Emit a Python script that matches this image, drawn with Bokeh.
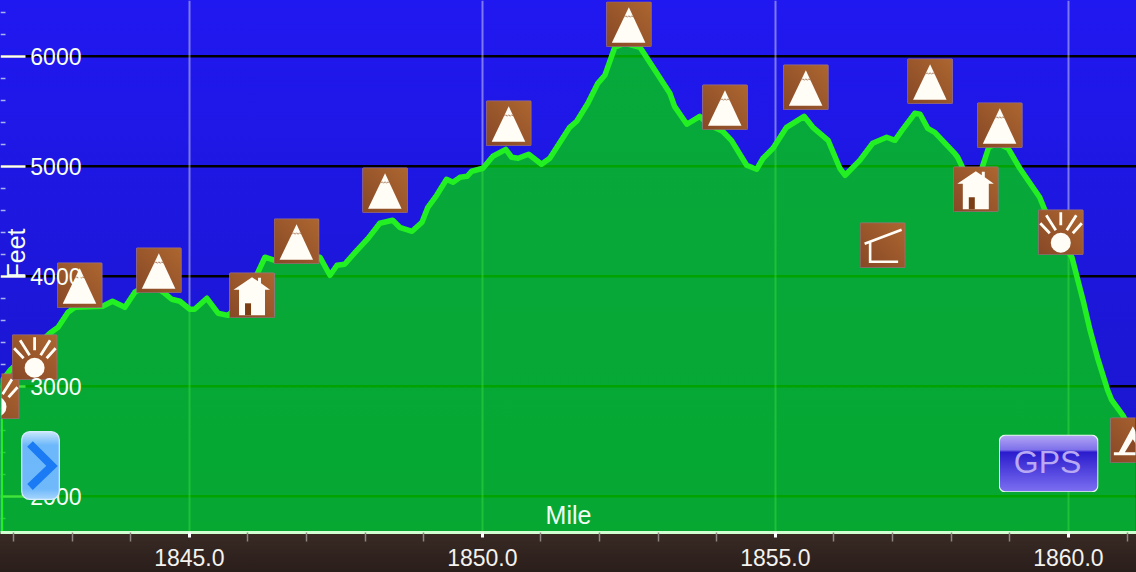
from urllib.parse import quote
from bokeh.embed import file_html
from bokeh.resources import INLINE
from bokeh.plotting import figure
from bokeh.models import (ColumnDataSource, FixedTicker, Grid, Label, LinearAxis, PrintfTickFormatter, Range1d)

miles = [1841.77,1841.94,1842.62,1842.76,1842.93,1843.05,1843.52,1843.69,1843.90,1844.07,1844.33,1844.58,1844.70,1844.84,1845.01,1845.09,1845.30,1845.49,1845.66,1845.95,1846.17,1846.29,1846.46,1846.85,1847.23,1847.40,1847.52,1847.65,1847.86,1848.05,1848.25,1848.47,1848.59,1848.80,1848.97,1849.07,1849.22,1849.39,1849.50,1849.62,1849.74,1849.82,1850.01,1850.18,1850.40,1850.50,1850.61,1850.79,1851.01,1851.15,1851.49,1851.61,1851.80,1851.97,1852.09,1852.26,1852.43,1852.69,1853.20,1853.28,1853.49,1853.71,1853.88,1854.10,1854.25,1854.51,1854.68,1854.79,1854.96,1855.19,1855.49,1855.64,1855.90,1856.10,1856.19,1856.44,1856.66,1856.90,1857.04,1857.16,1857.38,1857.47,1857.60,1857.72,1858.06,1858.11,1858.20,1858.40,1858.54,1858.64,1858.78,1858.97,1859.17,1859.51,1859.60,1859.82,1860.06,1860.25,1860.37,1860.50,1860.67,1860.74,1860.93,1861.15]
feet = [3027,3145,3482,3536,3673,3718,3727,3773,3718,3855,3936,3845,3791,3773,3700,3700,3800,3664,3645,3782,4036,4173,4145,4191,4173,4009,4100,4109,4236,4345,4482,4509,4445,4409,4491,4627,4736,4882,4855,4900,4909,4955,4982,5091,5154,5082,5073,5109,5018,5073,5354,5409,5573,5754,5827,6082,6118,6082,5664,5545,5382,5454,5373,5318,5236,5009,4973,5073,5164,5354,5454,5354,5236,4982,4918,5054,5209,5264,5236,5327,5482,5473,5345,5309,5118,5082,4982,4736,5009,5173,5209,5164,4982,4718,4600,4373,4173,3782,3509,3254,2964,2873,2736,2509]

icon_kinds = ["sun","sun","mountain","mountain","house","mountain","mountain","mountain","mountain","mountain","mountain","shelter","mountain","house","mountain","sun","tent"]
icon_miles = [1841.71,1842.36,1843.13,1844.48,1846.07,1846.83,1848.34,1850.45,1852.50,1854.14,1855.52,1856.83,1857.64,1858.42,1858.83,1859.87,1861.10]
icon_feet = [2909,3264,3918,4054,3827,4318,4782,5391,6291,5536,5718,4282,5773,4791,5373,4400,2509]

x_major = [1845,1850,1855,1860]
x_minor = [1842,1843,1844,1846,1847,1848,1849,1851,1852,1853,1854,1856,1857,1858,1859,1861]
y_major = [2000,3000,4000,5000,6000]
y_minor = [1800,2200,2400,2600,2800,3200,3400,3600,3800,4200,4400,4600,4800,5200,5400,5600,5800,6200,6400]
x_start, x_end = 1841.778, 1861.162
y_start, y_end = 1670.6, 6507.0
MILE_PX, FOOT_PX = 58.6, 0.11

CREAM = "#fffdf6"
def svg_uri(w, h, body):
    s = f'<svg xmlns="http://www.w3.org/2000/svg" width="{w}" height="{h}" viewBox="0 0 {w} {h}">{body}</svg>'
    return "data:image/svg+xml," + quote(s)

BASE = ('<defs><linearGradient id="g" x1="1" y1="0" x2="0" y2="1">'
        '<stop offset="0" stop-color="#ad6630"/><stop offset="1" stop-color="#874826"/></linearGradient></defs>'
        '<rect x="0.5" y="0.5" width="45" height="45" rx="1" fill="url(#g)" stroke="#9c7a9a" stroke-width="0.7"/>')
RAYS = "M23 3V16M8.5 6L18 21M38.5 6L29 21M2.5 14L12 24M44 14L35 24"
shapes = {
    "mountain": BASE + f'<path d="M23 6L39.5 41.5H6Z" fill="{CREAM}"/>'
                       '<path d="M18.5 16L20 14.5L21.5 16L23 14.5L24.5 16L26 14.5L27.5 16" fill="none" stroke="#9a6a4a" stroke-width="0.8"/>',
    "sun": BASE + f'<circle cx="23" cy="33.5" r="10" fill="{CREAM}"/><path d="{RAYS}" stroke="{CREAM}" stroke-width="2.8" fill="none"/>',
    "house": BASE + f'<path d="M23 5L29 9V5.5H32V11L41 17.5H36V43H10V17.5H4.5Z" fill="{CREAM}"/><rect x="16" y="31" width="6" height="12" fill="#7a3d14"/>',
    "shelter": BASE + f'<path d="M5 21.5L42 7.5M10.5 19V39.5H38.5" fill="none" stroke="{CREAM}" stroke-width="2.6"/>',
    "tent": BASE + f'<path d="M23 9L37 35H42V38H4V35H9Z" fill="{CREAM}"/><path d="M23 22L31 35H15Z" fill="#8a4a28"/>',
}

p = figure(width=1136, height=572, frame_width=1136, frame_height=532,
           x_range=Range1d(x_start, x_end), y_range=Range1d(y_start, y_end),
           output_backend="svg", toolbar_location=None,
           min_border=0, min_border_left=0, min_border_right=0, min_border_top=0, min_border_bottom=40,
           x_axis_type=None, y_axis_type=None,
           background_fill_alpha=0, border_fill_alpha=0, outline_line_color=None,
           styles={"position": "fixed", "left": "0px", "top": "0px",
                   "background": "linear-gradient(180deg,#2018f0 0px,#1a16c8 532px,#392a24 532px,#2a1e1b 572px)"})

xaxis = LinearAxis(
    ticker=FixedTicker(ticks=x_major, minor_ticks=x_minor),
    formatter=PrintfTickFormatter(format="%.1f"),
    axis_line_color="#d2ffd2", axis_line_width=3,
    major_tick_line_color="#ffffff", major_tick_line_width=3, major_tick_in=0, major_tick_out=5,
    minor_tick_line_color="#8d8582", minor_tick_line_width=1.5, minor_tick_in=0, minor_tick_out=9,
    major_label_text_color="#f4f2ee", major_label_text_font_size="23px",
    major_label_text_font="Liberation Sans", major_label_standoff=7,
    axis_label="Mile", axis_label_text_color="#f2fff2", axis_label_text_font_size="25px",
    axis_label_text_font="Liberation Sans", axis_label_text_font_style="normal",
    axis_label_standoff=-68)
p.add_layout(xaxis, "below")

# ticks lie under the translucent area, their numbers over it
ytick_axis = LinearAxis(
    fixed_location=x_start,
    ticker=FixedTicker(ticks=y_major, minor_ticks=y_minor),
    axis_line_color=None,
    major_tick_line_color="#ffffff", major_tick_line_width=2.5, major_tick_in=25, major_tick_out=0,
    minor_tick_line_color="#a9b4ee", minor_tick_line_width=1.5, minor_tick_in=5, minor_tick_out=0,
    major_label_text_color=None, level="image")
p.add_layout(ytick_axis, "left")
ylabel_axis = LinearAxis(
    fixed_location=x_start,
    ticker=FixedTicker(ticks=y_major, minor_ticks=[]),
    axis_line_color=None, major_tick_line_color=None, minor_tick_line_color=None,
    major_label_text_color="#f8fff8", major_label_text_font_size="23px",
    major_label_text_font="Liberation Sans", major_label_standoff=-87, level="glyph")
p.add_layout(ylabel_axis, "left")

p.segment(x0=[x_start] * len(y_major), x1=[x_end] * len(y_major), y0=y_major, y1=y_major,
          line_color="#000000", line_width=2.5, level="image")
p.add_layout(Grid(dimension=0, ticker=FixedTicker(ticks=x_major), grid_line_color="#ffffff", grid_line_alpha=0.42, grid_line_width=2, level="image"))

src = ColumnDataSource(dict(x=miles, y=feet, base=[y_start] * len(miles)))
p.varea(x="x", y1="base", y2="y", source=src, fill_color="#00d900", fill_alpha=0.75, level="underlay")
# the outline also runs down the left edge of the area
p.line(x=[x_start] + miles, y=[y_start] + feet, line_color="#22f022", line_width=5.5, line_join="round", level="underlay")

icons = ColumnDataSource(dict(x=icon_miles, y=icon_feet, url=[svg_uri(46, 46, shapes[k]) for k in icon_kinds]))
p.image_url(url="url", x="x", y="y", w=46, h=46, w_units="screen", h_units="screen", anchor="center_center",
            source=icons, level="glyph")

def px_mile(px): return x_start + px / MILE_PX
def px_foot(py): return y_end - py / FOOT_PX

chevron = svg_uri(39, 69,
    '<defs><linearGradient id="b" x1="0" y1="0" x2="0" y2="1"><stop offset="0" stop-color="#c9e6fb"/>'
    '<stop offset="0.2" stop-color="#6db8fa"/><stop offset="0.85" stop-color="#6fb9fb"/><stop offset="1" stop-color="#a6d5fc"/></linearGradient></defs>'
    '<rect x="0.7" y="0.7" width="37.6" height="67.6" rx="8" fill="url(#b)" stroke="#d6edff" stroke-width="1.2"/>'
    '<path d="M9 13L31 35L9 56" fill="none" stroke="#1a7bf5" stroke-width="8"/>')
gps = svg_uri(100, 58,
    '<defs><linearGradient id="c" x1="0" y1="0" x2="0" y2="1"><stop offset="0" stop-color="#b4a6f5"/>'
    '<stop offset="0.26" stop-color="#7d70ea"/><stop offset="0.3" stop-color="#2a1ccc"/><stop offset="1" stop-color="#7d70f2"/></linearGradient></defs>'
    '<rect x="0.7" y="0.7" width="98.6" height="56.6" rx="6" fill="url(#c)" stroke="#e8f8f0" stroke-width="1.2"/>')
p.image_url(url=[chevron, gps], x=[px_mile(40), px_mile(1048)], y=[px_foot(465), px_foot(463)],
            w=[39, 100], h=[69, 58], w_units="screen", h_units="screen", anchor="center_center", level="annotation")

p.add_layout(Label(x=px_mile(1047), y=px_foot(462), text="GPS", text_color="#b9a9f3", text_font_size="32px",
                   text_font="Liberation Sans", text_align="center", text_baseline="middle", level="overlay"))
p.add_layout(Label(x=px_mile(15), y=px_foot(253), text="Feet", angle=90, angle_units="deg", text_color="#f4fff4",
                   text_font_size="25px", text_font="Liberation Sans", text_align="center", text_baseline="middle",
                   level="overlay"))

open("out.html", "w").write(file_html(p, INLINE))
